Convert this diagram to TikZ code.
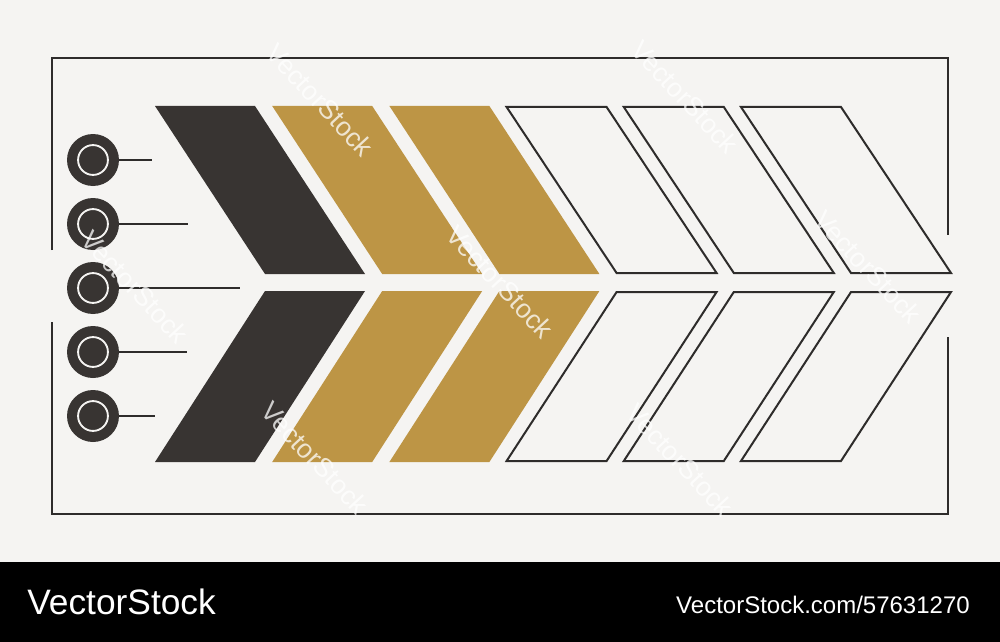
\documentclass[tikz,border=0pt]{standalone}
\usepackage{fontspec}
\setmainfont{Liberation Sans}
\definecolor{bg}{HTML}{F5F4F2}
\definecolor{dark}{HTML}{383432}
\definecolor{gold}{HTML}{BD9545}
\definecolor{ink}{HTML}{2E2C2B}
\tikzset{
  dot/.style={circle, fill=dark, minimum size=39pt, inner sep=0pt},
  ring/.style={draw=bg, line width=1.4pt},
  lead/.style={draw=ink, line width=1.3pt},
  frameline/.style={draw=ink, line width=1pt},
  outlinebox/.style={draw=ink, line width=1.5pt, line join=miter},
  wmark/.style={text=white, opacity=0.75, font=\fontsize{20}{22}\selectfont, rotate=-47},
}
\begin{document}
\begin{tikzpicture}[x=0.75pt,y=-0.75pt]
\useasboundingbox (0,0) rectangle (1000,642);
\fill[bg] (0,0) rectangle (1000,642);
\fill[black] (0,562) rectangle (1000,642);
% frame
\draw[frameline] (52,250) -- (52,58) -- (948,58) -- (948,235);
\draw[frameline] (52,322) -- (52,514) -- (948,514) -- (948,337);
% chevrons
\foreach \i/\c in {0/dark,1/gold,2/gold}{
  \pgfmathsetmacro{\xa}{155+117.2*\i}
  \fill[\c] (\xa,106) -- (\xa+100,106) -- (\xa+210,274) -- (\xa+110,274) -- cycle;
  \fill[\c] (\xa+110,291) -- (\xa+210,291) -- (\xa+100,462) -- (\xa,462) -- cycle;
}
\foreach \i in {3,4,5}{
  \pgfmathsetmacro{\xa}{155+117.2*\i}
  \draw[outlinebox] (\xa,107) -- (\xa+100,107) -- (\xa+210,273) -- (\xa+110,273) -- cycle;
  \draw[outlinebox] (\xa+110,292) -- (\xa+210,292) -- (\xa+100,461) -- (\xa,461) -- cycle;
}
% circles and leads
\foreach \n/\y/\e in {1/160/152,2/224/188,3/288/240,4/352/187,5/416/155}{
  \node[dot] (c\n) at (93,\y) {};
  \draw[ring] (c\n.center) circle[radius=11.2pt];
  \coordinate (e\n) at (\e,\y);
  \draw[lead] (c\n) -- (e\n);
}
% watermarks
\node[wmark] (w1) at (320,100) {VectorStock};
\node[wmark] (w2) at (685,97) {VectorStock};
\node[wmark] (w3) at (135,287) {VectorStock};
\node[wmark] (w4) at (500,282) {VectorStock};
\node[wmark] (w5) at (868,267) {VectorStock};
\node[wmark] (w6) at (315,458) {VectorStock};
\node[wmark] (w7) at (680,460) {VectorStock};
% footer
\node[anchor=base west, text=white, inner sep=0pt, font=\fontsize{26.5}{30}\selectfont] (brand) at (27,614) {VectorStock};
\node[anchor=base east, text=white, inner sep=0pt, font=\fontsize{18}{20}\selectfont] (ident) at (970,613) {VectorStock.com/57631270};
\end{tikzpicture}
\end{document}
